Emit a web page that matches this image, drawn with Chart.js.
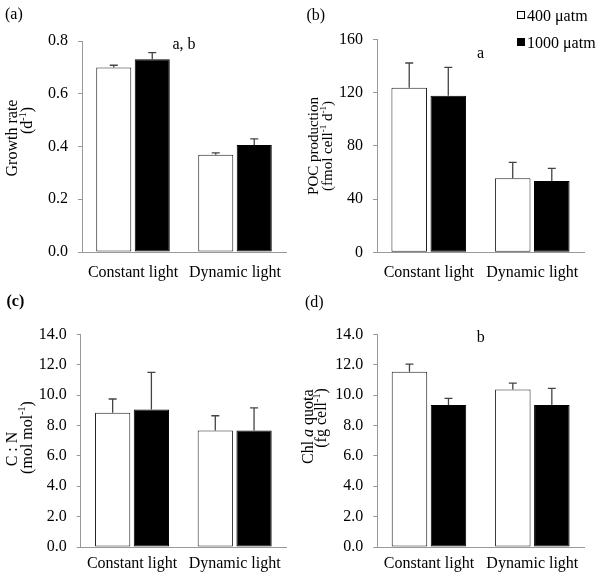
<!DOCTYPE html>
<html>
<head>
<meta charset="utf-8">
<script src="https://cdn.jsdelivr.net/npm/chart.js@4.4.0/dist/chart.umd.min.js"></script>
<style>
body { margin: 0; background: #fff; }
#wrap { position: relative; width: 600px; height: 578px; }
canvas { position: absolute; }
.lbox { position: absolute; width: 6px; height: 6px; border: 1px solid #000; }
.ltext { position: absolute; font: 16px "Liberation Serif", "Times New Roman", serif; line-height: 16px; color: #000; white-space: nowrap; }
</style>
</head>
<body>
<div id="wrap">
  <canvas id="chartA" width="300" height="289" style="left:0;top:0"></canvas>
  <canvas id="chartB" width="300" height="289" style="left:300px;top:0"></canvas>
  <canvas id="chartC" width="300" height="289" style="left:0;top:289px"></canvas>
  <canvas id="chartD" width="300" height="289" style="left:300px;top:289px"></canvas>
  <div class="lbox" style="left:517px;top:11px;background:#fff"></div>
  <div class="ltext" style="left:527px;top:7.5px">400 μatm</div>
  <div class="lbox" style="left:517px;top:38px;background:#000"></div>
  <div class="ltext" style="left:527px;top:34.5px">1000 μatm</div>
</div>
<script>
var categories = ['Constant light', 'Dynamic light'];

// (a) growth rate
var growth400 = [0.700, 0.369];
var growth400Err = [0.008, 0.007];
var growth1000 = [0.731, 0.406];
var growth1000Err = [0.025, 0.023];

// (b) POC production
var poc400 = [123.6, 55.6];
var poc400Err = [18.6, 12.0];
var poc1000 = [117.6, 53.6];
var poc1000Err = [21.3, 9.5];

// (c) C:N
var cn400 = [8.84, 7.67];
var cn400Err = [0.90, 0.97];
var cn1000 = [9.05, 7.67];
var cn1000Err = [2.44, 1.49];

// (d) Chl a quota
var chl400 = [11.54, 10.37];
var chl400Err = [0.50, 0.42];
var chl1000 = [9.34, 9.34];
var chl1000Err = [0.44, 1.10];

var serif = '"Liberation Serif", "Times New Roman", serif';
Chart.defaults.font.family = serif;
Chart.defaults.font.size = 16;
Chart.defaults.color = '#000';

// draw a line made of segments, centred on 0
function drawRich(ctx, parts, size) {
    var widths = parts.map(function(p) {
        ctx.font = (p.italic ? 'italic ' : '') + (p.sup ? Math.round(size * 0.62) : size) + 'px ' + serif;
        return ctx.measureText(p.t).width;
    });
    var total = widths.reduce(function(a, b) { return a + b; }, 0);
    var x = -total / 2;
    parts.forEach(function(p, i) {
        ctx.font = (p.italic ? 'italic ' : '') + (p.sup ? Math.round(size * 0.62) : size) + 'px ' + serif;
        ctx.fillText(p.t, x, p.sup ? -size * 0.32 : 0);
        x += widths[i];
    });
}

var errorBars = {
    id: 'errorBars',
    afterDatasetsDraw: function(chart) {
        var ctx = chart.ctx;
        var y = chart.scales.y;
        ctx.save();
        ctx.strokeStyle = '#444';
        ctx.lineWidth = 1.3;
        chart.data.datasets.forEach(function(ds, i) {
            var meta = chart.getDatasetMeta(i);
            meta.data.forEach(function(bar, j) {
                var top = y.getPixelForValue(ds.data[j]);
                var end = y.getPixelForValue(ds.data[j] + ds.errors[j]);
                ctx.beginPath();
                ctx.moveTo(bar.x, top);
                ctx.lineTo(bar.x, end);
                ctx.moveTo(bar.x - 4, end);
                ctx.lineTo(bar.x + 4, end);
                ctx.stroke();
            });
        });
        ctx.restore();
    }
};

var panelText = {
    id: 'panelText',
    afterDraw: function(chart, args, opts) {
        var ctx = chart.ctx;
        ctx.save();
        ctx.fillStyle = '#000';
        ctx.textBaseline = 'middle';
        ctx.textAlign = 'left';
        ctx.font = (opts.tagBold ? 'bold ' : '') + '16px ' + serif;
        ctx.fillText(opts.tag, opts.tagX, opts.tagY);

        opts.titles.forEach(function(line) {
            ctx.save();
            ctx.translate(line.x, line.y);
            ctx.rotate(-Math.PI / 2);
            drawRich(ctx, line.parts, opts.titleSize);
            ctx.restore();
        });

        if (opts.letter) {
            ctx.textAlign = 'center';
            ctx.font = '16px ' + serif;
            ctx.fillText(opts.letter, chart.scales.x.getPixelForValue(0.5), chart.scales.y.getPixelForValue(opts.letterValue));
        }
        ctx.restore();
    }
};

function makeChart(id, cfg) {
    return new Chart(document.getElementById(id), {
        type: 'bar',
        data: {
            labels: categories,
            datasets: [{
                label: '400 μatm',
                data: cfg.a,
                errors: cfg.aErr,
                backgroundColor: '#fff',
                borderColor: '#222',
                borderWidth: 1,
                borderSkipped: false,
                categoryPercentage: 0.755,
                barPercentage: 0.91
            }, {
                label: '1000 μatm',
                data: cfg.b,
                errors: cfg.bErr,
                backgroundColor: '#000',
                borderColor: '#000',
                borderWidth: 1,
                borderSkipped: false,
                categoryPercentage: 0.755,
                barPercentage: 0.91
            }]
        },
        options: {
            responsive: false,
            animation: false,
            layout: {
                padding: { left: 0, top: cfg.top, right: 300 - cfg.right, bottom: 0 }
            },
            scales: {
                x: {
                    offset: true,
                    grid: { display: false },
                    border: { display: true, color: '#999', width: 1 },
                    ticks: { padding: cfg.xPad, maxRotation: 0, autoSkip: false },
                    afterFit: function(s) { s.height = 289 - cfg.bottom; }
                },
                y: {
                    min: cfg.min,
                    max: cfg.max,
                    grid: { drawOnChartArea: false, tickLength: 4, color: '#999' },
                    border: { color: '#999', width: 1 },
                    ticks: {
                        stepSize: cfg.step,
                        padding: 10,
                        callback: function(v) { return v.toFixed(cfg.dec); }
                    },
                    afterFit: function(s) { s.width = cfg.left; }
                }
            },
            plugins: {
                legend: { display: false },
                tooltip: { enabled: false },
                panelText: cfg.text
            }
        },
        plugins: [errorBars, panelText]
    });
}

makeChart('chartA', {
    a: growth400, aErr: growth400Err, b: growth1000, bErr: growth1000Err,
    min: 0, max: 0.8, step: 0.2, dec: 1,
    left: 82, top: 41, right: 286, bottom: 252, xPad: 3,
    text: {
        tag: '(a)', tagX: 5, tagY: 15, titleSize: 16,
        titles: [
            { x: 12.5, y: 138, parts: [{ t: 'Growth rate' }] },
            { x: 28, y: 120.5, parts: [{ t: '(d' }, { t: '-1', sup: true }, { t: ')' }] }
        ],
        letter: 'a, b', letterValue: 0.785
    }
});

makeChart('chartB', {
    a: poc400, aErr: poc400Err, b: poc1000, bErr: poc1000Err,
    min: 0, max: 160, step: 40, dec: 0,
    left: 77, top: 39.3, right: 284, bottom: 252.3, xPad: 3,
    text: {
        tag: '(b)', tagX: 6.5, tagY: 16, titleSize: 15,
        titles: [
            { x: 14.5, y: 146, parts: [{ t: 'POC production' }] },
            { x: 28.5, y: 146, parts: [{ t: '(fmol cell' }, { t: '-1', sup: true }, { t: ' d' }, { t: '-1', sup: true }, { t: ')' }] }
        ],
        letter: 'a', letterValue: 149
    }
});

makeChart('chartC', {
    a: cn400, aErr: cn400Err, b: cn1000, bErr: cn1000Err,
    min: 0, max: 14, step: 2, dec: 1,
    left: 80.7, top: 45.3, right: 286, bottom: 258, xPad: -1,
    text: {
        tag: '(c)', tagX: 6.5, tagY: 12.7, tagBold: true, titleSize: 16,
        titles: [
            { x: 12.5, y: 160, parts: [{ t: 'C : N' }] },
            { x: 27.5, y: 148.5, parts: [{ t: '(mol mol' }, { t: '-1', sup: true }, { t: ')' }] }
        ]
    }
});

makeChart('chartD', {
    a: chl400, aErr: chl400Err, b: chl1000, bErr: chl1000Err,
    min: 0, max: 14, step: 2, dec: 1,
    left: 77.3, top: 45.3, right: 284, bottom: 258, xPad: -1,
    text: {
        tag: '(d)', tagX: 5, tagY: 13.5, titleSize: 16,
        titles: [
            { x: 8.5, y: 137.7, parts: [{ t: 'Chl ' }, { t: 'a', italic: true }, { t: ' quota' }] },
            { x: 22, y: 129, parts: [{ t: '(fg cell' }, { t: '-1', sup: true }, { t: ')' }] }
        ],
        letter: 'b', letterValue: 13.78
    }
});
</script>
</body>
</html>
